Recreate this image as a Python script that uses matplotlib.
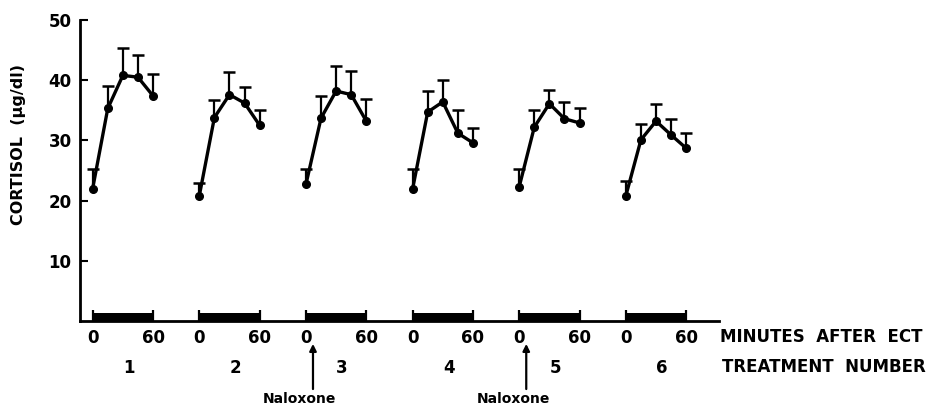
import matplotlib.pyplot as plt

# sampling times (minutes after ECT) and treatment numbers
minutes = [0, 15, 30, 45, 60]
treatments = ['1', '2', '3', '4', '5', '6']
naloxone_treatments = ['3', '5']

# mean cortisol (ug/dl) per treatment
t1_mean = [22.0, 35.3, 40.8, 40.5, 37.4]
t2_mean = [20.8, 33.8, 37.6, 36.2, 32.5]
t3_mean = [22.7, 33.7, 38.2, 37.6, 33.2]
t4_mean = [21.9, 34.7, 36.4, 31.2, 29.6]
t5_mean = [22.3, 32.2, 36.1, 33.6, 32.9]
t6_mean = [20.8, 30.1, 33.2, 30.9, 28.7]

# top of the (upper only) error bars
t1_top = [25.3, 39.0, 45.4, 44.2, 41.1]
t2_top = [23.0, 36.7, 41.4, 38.9, 35.1]
t3_top = [25.3, 37.4, 42.4, 41.5, 36.8]
t4_top = [25.2, 38.2, 40.0, 35.0, 32.0]
t5_top = [25.2, 35.0, 38.4, 36.3, 35.3]
t6_top = [23.2, 32.7, 36.0, 33.5, 31.3]

means = [t1_mean, t2_mean, t3_mean, t4_mean, t5_mean, t6_mean]
tops = [t1_top, t2_top, t3_top, t4_top, t5_top, t6_top]

GAP = 106  # offset between treatment blocks, in minutes of the x scale

fig = plt.figure(figsize=(9.34, 4.07), dpi=100)
ax = fig.add_axes([80 / 934, 1 - 321 / 407, 639 / 934, 301 / 407])

tick_pos, tick_lab = [], []
for i, (m, t) in enumerate(zip(means, tops)):
    xs = [x + i * GAP for x in minutes]
    # error bars first so the line sits on top
    ax.vlines(xs, m, t, color='black', lw=1.6, zorder=2)
    ax.plot(xs, t, ls='none', marker='_', ms=8, mew=1.8, color='black', zorder=2)
    ax.plot(xs, m, color='black', lw=2.4, marker='o', ms=5.5, zorder=3)
    # thick bar along the axis marking the 0-60 window
    ax.fill_between([xs[0], xs[-1]], 0, 1.3, color='black', lw=0, zorder=2)
    ax.vlines([xs[0], xs[-1]], 0, 1.9, color='black', lw=1.6, zorder=2)
    tick_pos += [xs[0], xs[-1]]
    tick_lab += [str(minutes[0]), str(minutes[-1])]
    ax.text((xs[0] + xs[-1]) / 2 + 6, -7.8, treatments[i], ha='center', va='center',
            fontsize=12, fontweight='bold', clip_on=False)
    if treatments[i] in naloxone_treatments:
        ax.annotate('', xy=(xs[0] + 7, -3.8), xytext=(xs[0] + 7, -11.3),
                    arrowprops=dict(arrowstyle='-|>', color='black', lw=1.6,
                                    mutation_scale=10, shrinkA=0, shrinkB=0),
                    annotation_clip=False)
        ax.text(xs[0] - 6, -13.0, 'Naloxone', ha='center', va='center',
                fontsize=10, fontweight='bold', clip_on=False)

ax.set_xlim(-12.6, 622.6)
ax.set_ylim(0, 50)
ax.set_yticks([10, 20, 30, 40, 50])
ax.set_yticklabels(['10', '20', '30', '40', '50'], fontsize=12, fontweight='bold')
ax.tick_params(axis='y', direction='in', length=6, width=1.5, pad=6)
ax.set_xticks(tick_pos)
ax.set_xticklabels(tick_lab, fontsize=12, fontweight='bold')
ax.tick_params(axis='x', length=0, pad=6)

for side in ['top', 'right']:
    ax.spines[side].set_visible(False)
for side in ['left', 'bottom']:
    ax.spines[side].set_linewidth(2)

ax.set_ylabel('CORTISOL  (\u00b5g/dl)', fontsize=11.5, fontweight='bold')
ax.yaxis.set_label_coords(-0.085, 0.585)

fig.text(720 / 934, 1 - 337 / 407, 'MINUTES  AFTER  ECT', fontsize=12,
         fontweight='bold', va='center', ha='left')
fig.text(722 / 934, 1 - 367 / 407, 'TREATMENT  NUMBER', fontsize=12,
         fontweight='bold', va='center', ha='left')

fig.savefig('out.png', dpi=100)
